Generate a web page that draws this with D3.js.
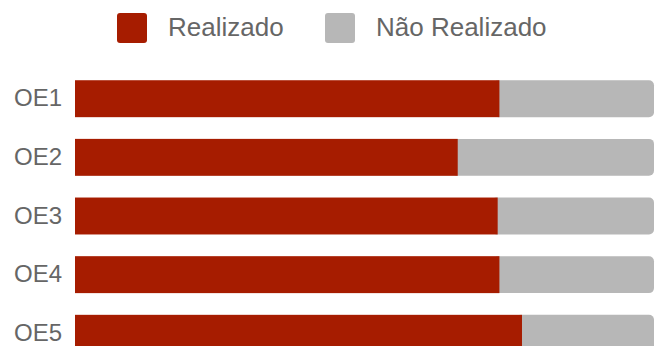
<!DOCTYPE html>
<html>
<head>
<meta charset="utf-8">
<style>
  body { margin: 0; background: #fff; }
  text { font-family: "Liberation Sans", Arial, sans-serif; }
</style>
</head>
<body>
<script src="https://d3js.org/d3.v7.min.js"></script>
<script>
  // data (percent realizado per objective)
  const categories = ['OE1', 'OE2', 'OE3', 'OE4', 'OE5']
  const realizado = [73.3, 66.1, 73.0, 73.3, 77.2]
  const naoRealizado = realizado.map(v => 100 - v)
  const seriesNames = ['Realizado', 'Não Realizado']
  const colors = ['#a61c00', '#b7b7b7']

  const width = 658
  const height = 346

  const svg = d3.select('body').append('svg')
    .attr('width', width)
    .attr('height', height)

  const rows = categories.map((c, i) => ({ cat: c, Realizado: realizado[i], 'Não Realizado': naoRealizado[i] }))
  const stacked = d3.stack().keys(seriesNames)(rows)

  const x = d3.scaleLinear().domain([0, 100]).range([75, 654])
  const y = d3.scaleBand()
    .domain(categories)
    .range([68.5, 363.5])
    .paddingInner(0.37)
    .paddingOuter(0.2)

  // rounded background for the right end, then the red part on top
  const gBars = svg.append('g')
  stacked.forEach((s, si) => {
    gBars.selectAll('.s' + si)
      .data(s)
      .enter().append('rect')
      .attr('class', 's' + si)
      .attr('x', d => si === 1 ? x(d[0]) - 6 : x(d[0]))
      .attr('y', d => y(d.data.cat))
      .attr('width', d => si === 1 ? x(d[1]) - x(d[0]) + 6 : x(d[1]) - x(d[0]))
      .attr('height', y.bandwidth())
      .attr('rx', si === 1 ? 5 : 0)
      .attr('fill', colors[si])
  })
  // re-draw red on top so the gray rounding tuck is hidden
  gBars.selectAll('.s0').raise()

  // category labels
  const yAxis = d3.axisLeft(y).tickSize(0).tickPadding(13)
  const ga = svg.append('g')
    .attr('transform', `translate(${x(0)},0)`)
    .call(yAxis)
  ga.select('.domain').remove()
  ga.selectAll('text')
    .attr('font-size', '24px')
    .attr('fill', '#666')
    .style('font-family', '"Liberation Sans", Arial, sans-serif')

  // legend
  const legendX = [117, 325]
  const leg = svg.append('g')
  seriesNames.forEach((name, i) => {
    leg.append('rect')
      .attr('x', legendX[i]).attr('y', 13)
      .attr('width', 30).attr('height', 30)
      .attr('rx', 3)
      .attr('fill', colors[i])
    leg.append('text')
      .attr('x', legendX[i] + 51).attr('y', 36)
      .attr('font-size', '26px')
      .attr('fill', '#666')
      .text(name)
  })
</script>
</body>
</html>
